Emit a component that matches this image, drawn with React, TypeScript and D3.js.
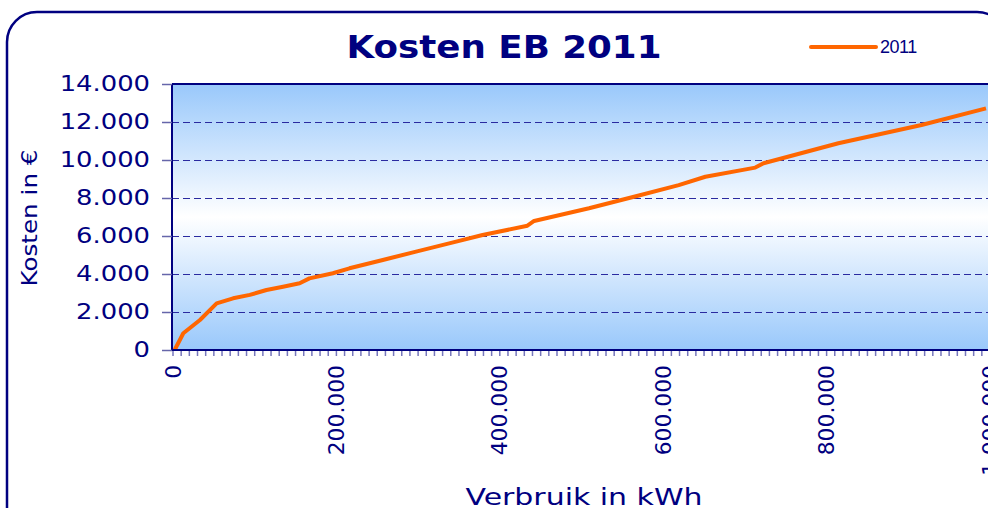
import React from 'react';
import * as d3 from 'd3';

// Verbruik (kWh) -> Kosten (€)
const verbruik = [2000, 12600, 33000, 53400, 73600, 94000, 114400, 134700, 155000, 167000, 195700, 216000, 256800, 297500, 338000, 378900, 433800, 442000, 509200, 570200, 619000, 651600, 712700, 722800, 814400, 916200, 995100];
const kosten = [0, 880, 1580, 2450, 2720, 2900, 3160, 3330, 3510, 3770, 4040, 4300, 4740, 5180, 5610, 6050, 6540, 6790, 7460, 8130, 8680, 9120, 9600, 9830, 10880, 11840, 12720];
const yTickValues = [0, 2000, 4000, 6000, 8000, 10000, 12000, 14000];
const xTickValues = [0, 200000, 400000, 600000, 800000, 1000000];
const seriesName = '2011';

const navy = '#000080';
const orange = '#ff6600';
const fmt = d3.format(',');
const nl = (v: number) => fmt(v).replace(/,/g, '.');
// approx. DejaVu Sans advance widths (em) for the label characters
const textEm = (s: string) => s.split('').reduce((a, c) => a + (c === '.' ? 0.318 : 0.636), 0);

const App: React.FC = () => {
  const width = 988;
  const height = 508;
  const left = 172;
  const right = 990;
  const top = 84;
  const bottom = 350;

  const xScale = d3.scaleLinear().domain([0, 1000000]).range([left + 1, right]);
  const yScale = d3.scaleLinear().domain([0, 14000]).range([bottom, top]);

  const pts = verbruik.map((v, i) => [v, kosten[i]] as [number, number]);
  const line = d3.line<[number, number]>().x(d => xScale(d[0])).y(d => yScale(d[1]));
  const minorTicks = d3.range(0, 1000001, 10000);

  return (
    <svg width={width} height={height} style={{position: 'absolute', left: 0, top: 0}}>
      <defs>
        <linearGradient id="bg" x1="0" y1="0" x2="0" y2="1">
          <stop offset="0" stopColor="#99c8fb"/>
          <stop offset="0.5" stopColor="#ffffff"/>
          <stop offset="1" stopColor="#99c8fb"/>
        </linearGradient>
      </defs>
      <rect width={width} height={height} fill="#fff"/>
      <rect x={7} y={12} width={1000} height={540} rx={30} fill="#fff" stroke={navy} strokeWidth={2.5}/>

      <text x={504} y={58} textAnchor="middle" fontFamily="DejaVu Sans" fontWeight="bold" fontSize={32} fill={navy} textLength={315} lengthAdjust="spacingAndGlyphs">Kosten EB 2011</text>

      {/* plot area */}
      <rect x={left} y={top} width={right - left} height={bottom - top} fill="url(#bg)"/>
      {yTickValues.filter(v => v > 0 && v < 14000).map(v => (
        <line key={v} x1={left} x2={right} y1={yScale(v) + 0.5} y2={yScale(v) + 0.5} stroke="#2a2aa0" strokeWidth={1} strokeDasharray="7 4"/>
      ))}
      <line x1={left} x2={right} y1={top} y2={top} stroke={navy} strokeWidth={2}/>

      {/* legend */}
      <rect x={755} y={20} width={215} height={63} fill="#fff"/>
      <line x1={811} x2={876} y1={47} y2={47} stroke={orange} strokeWidth={4} strokeLinecap="round"/>
      <text x={880} y={53} fontFamily="Liberation Sans" fontSize={18} fill={navy} letterSpacing={-0.5}>{seriesName}</text>

      {/* series */}
      <path d={line(pts) || ''} fill="none" stroke={orange} strokeWidth={4} strokeLinejoin="round"/>

      {/* y axis */}
      <line x1={left} x2={left} y1={top} y2={bottom} stroke={navy} strokeWidth={2}/>
      {yTickValues.map(v => (
        <g key={v} transform={`translate(0, ${yScale(v)})`}>
          <line x1={162} x2={left} y1={0.5} y2={0.5} stroke="#6666aa" strokeWidth={1.5}/>
          <text x={150} dy="0.36em" textAnchor="end" fontFamily="DejaVu Sans" fontSize={20.5} fill={navy} textLength={textEm(nl(v)) * 20.5 * 1.26} lengthAdjust="spacingAndGlyphs">{nl(v)}</text>
        </g>
      ))}
      <text transform={`translate(37, 218) rotate(-90)`} textAnchor="middle" fontFamily="DejaVu Sans" fontSize={22} fill={navy} textLength={137} lengthAdjust="spacingAndGlyphs">Kosten in €</text>

      {/* x axis */}
      {minorTicks.map(v => (
        <line key={v} x1={xScale(v)} x2={xScale(v)} y1={bottom} y2={bottom + 6} stroke="#7777bb" strokeWidth={1.5}/>
      ))}
      <line x1={left} x2={right} y1={bottom} y2={bottom} stroke={navy} strokeWidth={2}/>
      {xTickValues.map(v => (
        <text key={v} transform={`translate(${xScale(v)}, 365) rotate(-90)`} dy="0.36em" textAnchor="end" fontFamily="DejaVu Sans" fontSize={21} fill={navy} textLength={textEm(nl(v)) * 21 * 1.04} lengthAdjust="spacingAndGlyphs">{nl(v)}</text>
      ))}
      <text x={584} y={505} textAnchor="middle" fontFamily="DejaVu Sans" fontSize={23} fill={navy} textLength={237} lengthAdjust="spacingAndGlyphs">Verbruik in kWh</text>
    </svg>
  );
};

export default App;
